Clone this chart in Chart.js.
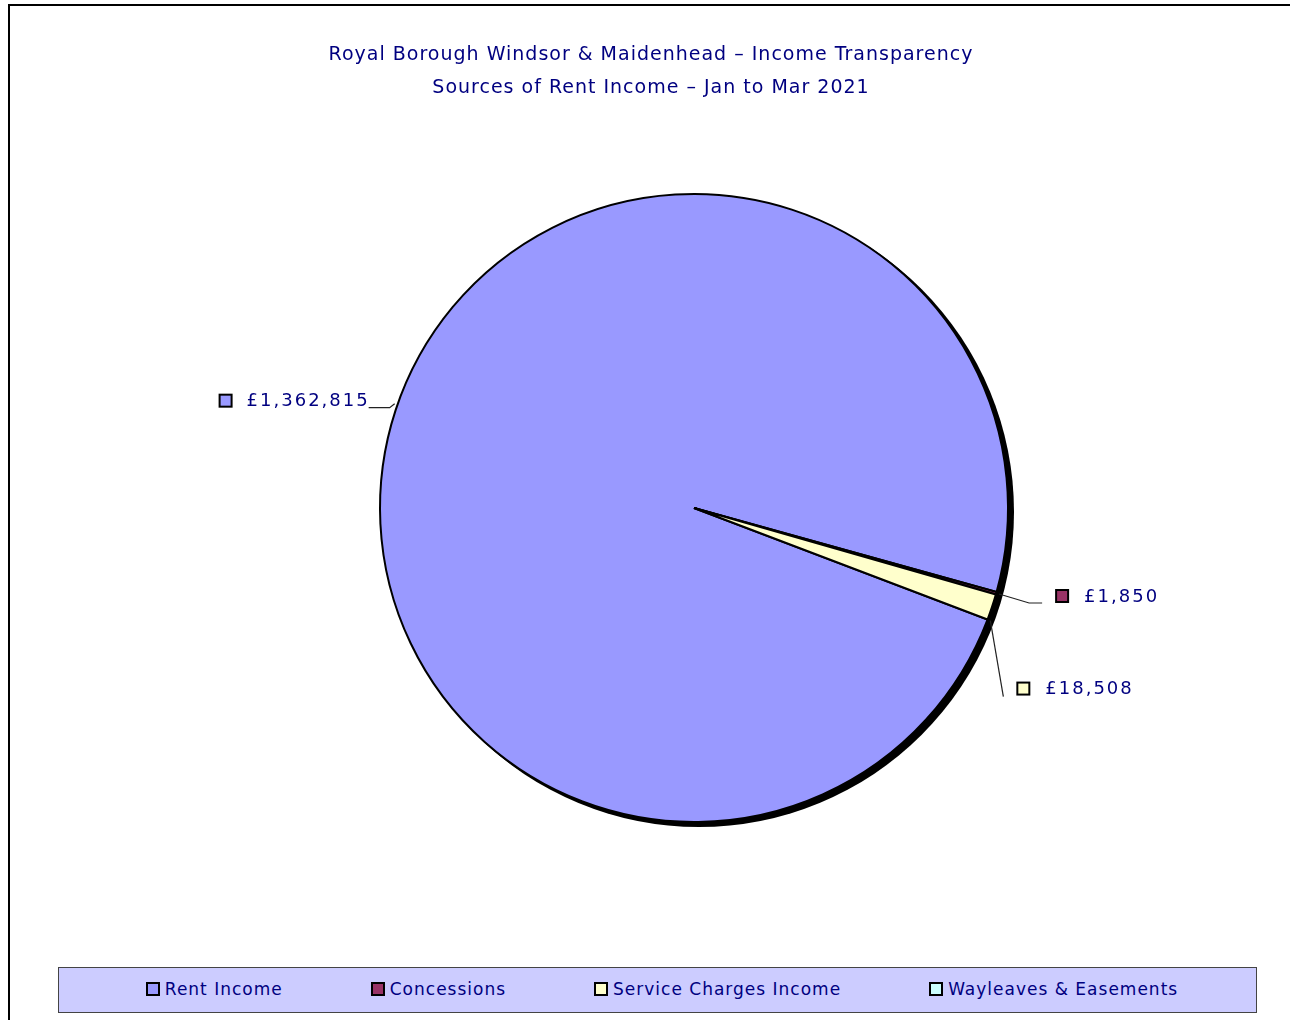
<!DOCTYPE html>
<html>
<head>
<meta charset="utf-8">
<title>Sources of Rent Income - Jan to Mar 2021</title>
<script src="https://cdn.jsdelivr.net/npm/chart.js@4.4.1/dist/chart.umd.min.js"></script>
<style>
  body { margin: 0; background: #fff; font-family: 'DejaVu Sans', sans-serif; }
  .wrap { position: relative; width: 1290px; height: 1020px; overflow: hidden; }
  .frame { position: absolute; left: 8px; top: 4px; width: 1400px; height: 1100px;
           border-left: 2px solid #000; border-top: 2px solid #000; }
  #pie { position: absolute; left: 0; top: 0; }
  .legend { position: absolute; left: 58px; top: 967px; width: 1199px; height: 46px;
            box-sizing: border-box; background: #ccccff; border: 1px solid #444;
            display: flex; align-items: center; justify-content: center; gap: 88px;
            padding-left: 9px; padding-bottom: 3px; }
  .legend .item { display: flex; align-items: center; color: #000080; font-size: 17px; letter-spacing: 1px; }
  .legend i { display: inline-block; width: 10px; height: 10px; border: 2px solid #000; margin-right: 5px; }
</style>
</head>
<body>
<div class="wrap">
  <div class="frame"></div>
  <canvas id="pie" width="1290" height="1020"></canvas>
  <div class="legend" id="legend"></div>
</div>
<script>
// data
const categories = ['Rent Income', 'Concessions', 'Service Charges Income', 'Wayleaves & Easements'];
const income = [1362815, 1850, 18508, 0];
const sliceColors = ['#9999ff', '#993366', '#ffffcc', '#ccffff'];
const titleLines = ['Royal Borough Windsor & Maidenhead \u2013 Income Transparency',
                    'Sources of Rent Income \u2013 Jan to Mar 2021'];

const navy = '#000080';

// where each value label sits relative to its slice edge
// t = position along the slice arc, elbow = bend offset, run = horizontal tail
const labelSpots = [
  { t: 0.503, elbow: [-5, 4], run: -21, lift: 7 },
  { t: 0.5, elbow: [30, 9], run: 13, lift: 7 },
  { t: 1.0, elbow: [13, 76], run: 0, lift: 8 },
  null
];

const fmt = v => '\u00a3' + v.toLocaleString('en-GB');

const spacing = {
  id: 'spacing',
  beforeDraw(chart) {
    chart.ctx.letterSpacing = '1px';
  }
};

// move title left of the pie centre like in the original sheet
const titleShift = {
  id: 'titleShift',
  afterLayout(chart) {
    chart.titleBlock.left -= 43;
    chart.titleBlock.right -= 43;
  }
};

const shadow = {
  id: 'shadow',
  beforeDatasetsDraw(chart) {
    const arc = chart.getDatasetMeta(0).data[0];
    const { x, y, outerRadius } = arc.getProps(['x', 'y', 'outerRadius'], true);
    const ctx = chart.ctx;
    ctx.save();
    ctx.fillStyle = '#000';
    ctx.beginPath();
    ctx.arc(x + 5, y + 4, outerRadius + 1, 0, Math.PI * 2);
    ctx.fill();
    ctx.restore();
  }
};

const valueLabels = {
  id: 'valueLabels',
  afterDatasetsDraw(chart) {
    const ctx = chart.ctx;
    const meta = chart.getDatasetMeta(0);
    ctx.save();
    ctx.font = '18px "DejaVu Sans"';
    ctx.letterSpacing = '2px';
    ctx.textBaseline = 'middle';
    meta.data.forEach((arc, i) => {
      const spot = labelSpots[i];
      if (!spot || !income[i]) return;
      const p = arc.getProps(['x', 'y', 'startAngle', 'endAngle', 'outerRadius'], true);
      const a = p.startAngle + (p.endAngle - p.startAngle) * spot.t;
      const r = p.outerRadius + 3;
      const ex = p.x + Math.cos(a) * r, ey = p.y + Math.sin(a) * r;
      const bx = ex + spot.elbow[0], by = ey + spot.elbow[1];
      const tx = bx + spot.run;
      ctx.strokeStyle = '#222';
      ctx.lineWidth = 1.2;
      ctx.beginPath();
      ctx.moveTo(ex, ey);
      ctx.lineTo(bx, by);
      ctx.lineTo(tx, by);
      ctx.stroke();

      const text = fmt(income[i]);
      const w = ctx.measureText(text).width;
      const cy = by - spot.lift;
      let sx, textX;
      if (spot.run < 0) {
        textX = tx + 1 - w;
        sx = textX - 27;
      } else {
        sx = tx + 14;
        textX = sx + 28;
      }
      ctx.strokeStyle = '#000';
      ctx.fillStyle = sliceColors[i];
      ctx.fillRect(sx, cy - 6, 12, 12);
      ctx.lineWidth = 2;
      ctx.strokeRect(sx, cy - 6, 12, 12);
      ctx.fillStyle = navy;
      ctx.textAlign = 'left';
      ctx.fillText(text, textX, cy + 1);
    });
    ctx.restore();
  }
};

const chart = new Chart(document.getElementById('pie'), {
  type: 'pie',
  data: {
    labels: categories,
    datasets: [{
      data: income,
      backgroundColor: sliceColors,
      borderColor: '#000',
      borderWidth: 2
    }]
  },
  options: {
    responsive: false,
    animation: false,
    rotation: 110.8,
    radius: 314,
    layout: {
      padding: { left: 110, right: 12, top: 0, bottom: 109 }
    },
    plugins: {
      legend: { display: false },
      tooltip: { enabled: false },
      title: {
        display: true,
        text: titleLines,
        color: navy,
        font: { family: 'DejaVu Sans', size: 19, weight: 'normal', lineHeight: '33px' },
        padding: { top: 39, bottom: 0 }
      }
    }
  },
  plugins: [spacing, titleShift, shadow, valueLabels]
});

// html legend from the same arrays
const legendEl = document.getElementById('legend');
categories.forEach((name, i) => {
  const item = document.createElement('span');
  item.className = 'item';
  const box = document.createElement('i');
  box.style.background = sliceColors[i];
  item.appendChild(box);
  item.appendChild(document.createTextNode(name));
  legendEl.appendChild(item);
});
</script>
</body>
</html>
